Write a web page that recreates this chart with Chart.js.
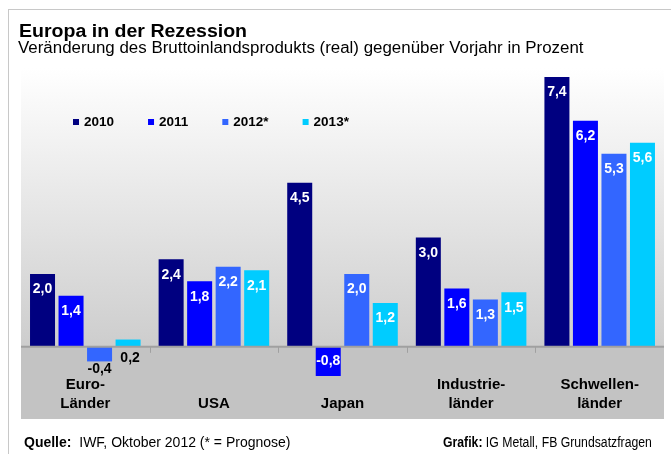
<!DOCTYPE html>
<html>
<head>
<meta charset="utf-8">
<script src="https://cdn.jsdelivr.net/npm/chart.js@4/dist/chart.umd.min.js"></script>
<style>
  html, body { margin: 0; padding: 0; background: #fff; }
  body {
    width: 671px; height: 454px; position: relative; overflow: hidden;
    font-family: "Liberation Sans", Arial, sans-serif; color: #000;
  }
  #frame {
    position: absolute; left: 8px; top: 9px; width: 700px; height: 500px;
    border-top: 1px solid #c8c8c8; border-left: 1px solid #c8c8c8;
  }
  #chart { position: absolute; left: 0; top: 0; }
  .txt { position: absolute; white-space: nowrap; transform-origin: left center; }
  #title { left: 19px; top: 22px; font-size: 18px; line-height: 18px; font-weight: bold; }
  #subtitle { left: 18px; top: 40px; font-size: 16px; line-height: 16px; }
  #source { left: 24px; top: 435px; font-size: 14px; line-height: 14px; }
  #credit { left: 443px; top: 435px; font-size: 14px; line-height: 14px; }
</style>
</head>
<body>
<div id="frame"></div>
<canvas id="chart" width="671" height="454"></canvas>
<div class="txt" id="title">Europa in der Rezession</div>
<div class="txt" id="subtitle">Veränderung des Bruttoinlandsprodukts (real) gegenüber Vorjahr in Prozent</div>
<div class="txt" id="source"><b>Quelle:</b>&nbsp; IWF, Oktober 2012 (* = Prognose)</div>
<div class="txt" id="credit"><b>Grafik:</b> IG Metall, FB Grundsatzfragen</div>
<script>
const categories = [['Euro-', 'Länder'], ['', 'USA'], ['', 'Japan'], ['Industrie-', 'länder'], ['Schwellen-', 'länder']];
const seriesNames = ['2010', '2011', '2012*', '2013*'];
const seriesColors = ['#000080', '#0000ff', '#3366ff', '#00ccff'];
const values2010 = [2.0, 2.4, 4.5, 3.0, 7.4];
const values2011 = [1.4, 1.8, -0.8, 1.6, 6.2];
const values2012 = [-0.4, 2.2, 2.0, 1.3, 5.3];
const values2013 = [0.2, 2.1, 1.2, 1.5, 5.6];
const seriesValues = [values2010, values2011, values2012, values2013];

function fitWidth(id, width) {
  const el = document.getElementById(id);
  el.style.transform = 'scaleX(' + (width / el.offsetWidth) + ')';
}
fitWidth('title', 228);
fitWidth('subtitle', 565);
fitWidth('credit', 209);

function fmt(v) {
  return v.toFixed(1).replace('.', ',');
}

// plot background: light gradient above zero, flat grey below
const backgroundPlugin = {
  id: 'background',
  beforeDraw(chart) {
    const { ctx, chartArea } = chart;
    const y0 = chart.scales.y.getPixelForValue(0);
    const grad = ctx.createLinearGradient(0, chartArea.top, 0, y0);
    grad.addColorStop(0, '#ffffff');
    grad.addColorStop(1, '#cdcdcd');
    ctx.save();
    ctx.fillStyle = grad;
    ctx.fillRect(chartArea.left, chartArea.top, chartArea.right - chartArea.left, y0 - chartArea.top);
    ctx.fillStyle = '#c3c3c3';
    ctx.fillRect(chartArea.left, y0, chartArea.right - chartArea.left, chartArea.bottom - y0);
    ctx.restore();
  },
};

const decorPlugin = {
  id: 'decor',
  afterDatasetsDraw(chart) {
    const { ctx, chartArea } = chart;
    const xs = chart.scales.x;
    const y0 = chart.scales.y.getPixelForValue(0);
    ctx.save();
    // zero line and category separators
    ctx.strokeStyle = '#a0a0a0';
    ctx.lineWidth = 2;
    ctx.beginPath();
    ctx.moveTo(chartArea.left, y0);
    ctx.lineTo(chartArea.right, y0);
    ctx.stroke();
    ctx.lineWidth = 1;
    for (let i = 1; i < categories.length; i++) {
      const x = Math.round((xs.getPixelForValue(i - 1) + xs.getPixelForValue(i)) / 2) + 0.5;
      ctx.beginPath();
      ctx.moveTo(x, y0);
      ctx.lineTo(x, y0 + 6);
      ctx.stroke();
    }

    // value labels
    ctx.font = 'bold 14px "Liberation Sans", Arial, sans-serif';
    ctx.textAlign = 'center';
    ctx.textBaseline = 'middle';
    chart.data.datasets.forEach((ds, di) => {
      chart.getDatasetMeta(di).data.forEach((bar, i) => {
        const v = ds.data[i];
        let x = bar.x;
        let y;
        if (v >= 1) {
          ctx.fillStyle = '#fff';
          y = bar.y + 15.5;
        } else if (v <= -0.6) {
          ctx.fillStyle = '#fff';
          y = (bar.y + bar.base) / 2;
        } else if (v < 0) {
          ctx.fillStyle = '#000';
          y = bar.y + 8;
        } else {
          ctx.fillStyle = '#000';
          x = bar.x + 2;
          y = bar.base + 11;
        }
        ctx.fillText(fmt(v), x, y);
      });
    });

    // category labels inside the grey band
    ctx.fillStyle = '#000';
    ctx.font = 'bold 15px "Liberation Sans", Arial, sans-serif';
    chart.data.labels.forEach((lab, i) => {
      const x = xs.getPixelForValue(i);
      ctx.fillText(lab[0], x, y0 + 38);
      ctx.fillText(lab[1], x, y0 + 57);
    });

    // legend inside the plot
    ctx.font = 'bold 13.5px "Liberation Sans", Arial, sans-serif';
    ctx.textAlign = 'left';
    let lx = chartArea.left + 52;
    const ly = chartArea.top + 54;
    chart.data.datasets.forEach((ds) => {
      ctx.fillStyle = ds.backgroundColor;
      ctx.fillRect(lx, ly - 3, 6, 6);
      ctx.fillStyle = '#000';
      ctx.fillText(ds.label, lx + 11, ly);
      lx += 11 + ctx.measureText(ds.label).width + 34;
    });
    ctx.restore();
  },
};

new Chart(document.getElementById('chart'), {
  type: 'bar',
  data: {
    labels: categories,
    datasets: seriesNames.map((name, i) => ({
      label: name,
      data: seriesValues[i],
      backgroundColor: seriesColors[i],
      borderWidth: 0,
      categoryPercentage: 0.887,
      barPercentage: 0.877,
    })),
  },
  options: {
    responsive: false,
    animation: false,
    layout: { padding: { left: 21, right: 7, top: 68, bottom: 35 } },
    scales: {
      x: { display: false },
      y: { display: false, min: -1.98, max: 7.65 },
    },
    plugins: {
      legend: { display: false },
      tooltip: { enabled: false },
    },
  },
  plugins: [backgroundPlugin, decorPlugin],
});
</script>
</body>
</html>
